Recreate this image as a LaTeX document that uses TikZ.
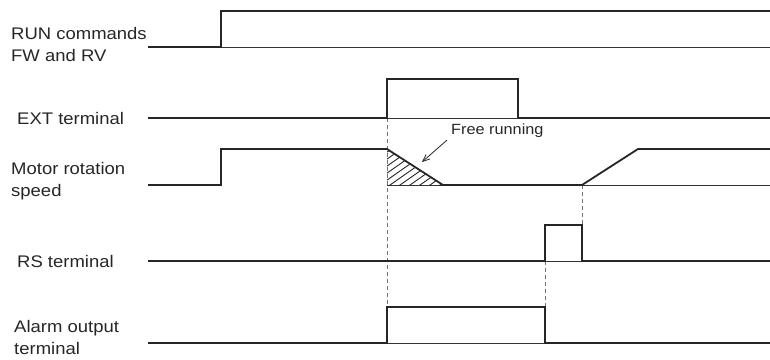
\documentclass[tikz,border=0pt]{standalone}
\usepackage{fontspec}
\newfontfamily\lab[FakeStretch=1.1]{Liberation Sans}
\usetikzlibrary{arrows.meta}
\begin{document}
\begin{tikzpicture}[x=1pt,y=-1pt,
  wave/.style={line width=1.8pt,draw=black!85,line join=miter},
  base/.style={line width=0.8pt,draw=black!80},
  guide/.style={line width=0.9pt,draw=black!55,dash pattern=on 4pt off 3pt},
  hatch/.style={line width=0.9pt,draw=black!85},
  lbl/.style={font=\lab\fontsize{16.8}{22}\selectfont,anchor=west,align=left,inner sep=0pt,text=black!85},
  note/.style={font=\lab\fontsize{14.8}{17}\selectfont,anchor=west,inner sep=0pt,text=black!85}]
\useasboundingbox (0,0) rectangle (770,359);
% labels
\node[lbl] (lrun) at (11,44) {RUN commands\\FW and RV};
\node[lbl] (lext) at (17,118) {EXT terminal};
\node[lbl] (lmot) at (11,181) {Motor rotation\\speed};
\node[lbl] (lrs) at (17,261) {RS terminal};
\node[lbl] (lalm) at (14,337) {Alarm output\\terminal};
\node[note] (lfree) at (451,131) {Free running};
% thin baselines
\draw[base] (221,47) -- (770,47);
\draw[base] (387,118) -- (518,118);
\draw[base] (387,185) -- (770,185);
\draw[base] (545,261) -- (582,261);
\draw[base] (387,343) -- (545,343);
% hatching
\begin{scope}
\clip (387,149) -- (443,185) -- (387,185) -- cycle;
\foreach \i in {0,...,14} {
  \draw[hatch] (320+10*\i,192) -- ++(80,-56);
}
\end{scope}
% guides
\draw[guide] (387,118) -- (387,307);
\draw[guide] (582,185) -- (582,225);
\draw[guide] (545,261) -- (545,307);
% waveforms
\draw[wave] (148,47) -- (221,47) -- (221,11) -- (770,11);
\draw[wave] (148,118) -- (387,118) -- (387,79) -- (518,79) -- (518,118) -- (770,118);
\draw[wave] (148,185) -- (221,185) -- (221,149) -- (387,149) -- (443,185) -- (582,185) -- (638,149) -- (770,149);
\draw[wave] (148,261) -- (545,261) -- (545,225) -- (582,225) -- (582,261) -- (770,261);
\draw[wave] (148,343) -- (387,343) -- (387,307) -- (545,307) -- (545,343) -- (770,343);
% arrow
\coordinate (atip) at (422,162);
\draw[line width=0.8pt,black!85,-{Straight Barb[length=7pt,width=6pt]}] (lfree.south west) ++(-4,2) -- (atip);
\end{tikzpicture}
\end{document}
